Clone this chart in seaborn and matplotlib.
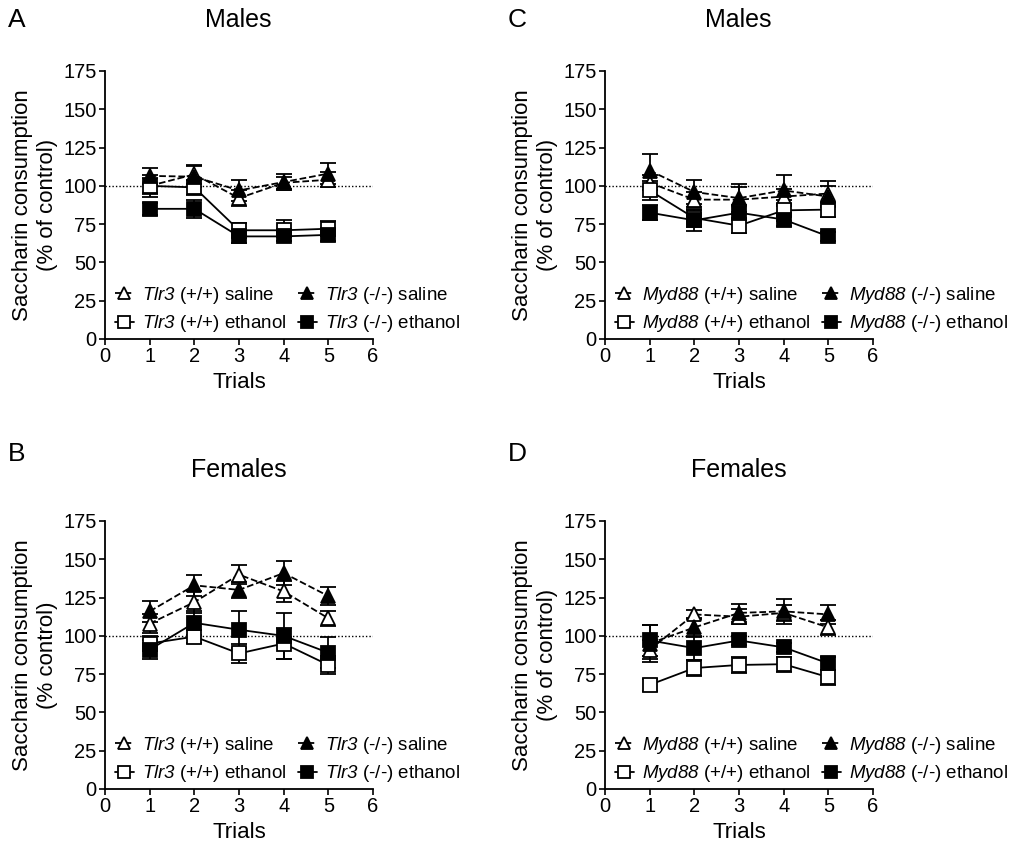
import numpy as np
import matplotlib
matplotlib.use("Agg")
import matplotlib.pyplot as plt
import pandas as pd
import seaborn as sns

trials = [1, 2, 3, 4, 5]

# panel A: Tlr3 males
a_wt_sal = [100, 107.5, 92, 102, 104]
a_wt_sal_err = [7, 6, 5, 4, 5]
a_ko_sal = [106.5, 106, 97, 102.5, 108]
a_ko_sal_err = [5, 7, 7, 5, 7]
a_wt_eth = [100, 99, 71, 71, 72]
a_wt_eth_err = [5, 5, 5, 7, 5]
a_ko_eth = [85, 85, 67, 67, 68]
a_ko_eth_err = [4, 6, 4, 3, 4]

# panel B: Tlr3 females
b_wt_sal = [108, 122, 140, 129, 111.5]
b_wt_sal_err = [6, 7, 6, 7, 5]
b_ko_sal = [116, 133, 130, 141, 126]
b_ko_sal_err = [7, 7, 5, 8, 6]
b_wt_eth = [95, 99.5, 88.5, 95, 81]
b_wt_eth_err = [5, 4, 6, 10, 6]
b_ko_eth = [91, 108.5, 104, 100, 89]
b_ko_eth_err = [6, 8, 12, 15, 10]

# panel C: Myd88 males
c_wt_sal = [102, 91, 91, 93, 95]
c_wt_sal_err = [5, 5, 8, 5, 8]
c_ko_sal = [110, 96, 92, 97, 93]
c_ko_sal_err = [11, 8, 9, 10, 7]
c_wt_eth = [97, 79, 74, 84, 84.5]
c_wt_eth_err = [6, 6, 5, 7, 5]
c_ko_eth = [82.5, 77.5, 82.5, 78, 67]
c_ko_eth_err = [5, 7, 5, 4, 3]

# panel D: Myd88 females
d_wt_sal = [91, 114, 112.5, 115, 105.5]
d_wt_sal_err = [6, 3, 5, 5, 5]
d_ko_sal = [95, 105.5, 115, 116, 114]
d_ko_sal_err = [12, 6, 6, 8, 6]
d_wt_eth = [68, 79, 81, 81.5, 73]
d_wt_eth_err = [4, 5, 5, 5, 5]
d_ko_eth = [97, 92, 97, 92.5, 82]
d_ko_eth_err = [10, 8, 3, 3, 4]

sns.set_style("ticks")
plt.rcParams['font.family'] = ['Liberation Sans', 'DejaVu Sans']
plt.rcParams['mathtext.fontset'] = 'custom'
# gene names are the only math text, and they are fully italic (digits too)
plt.rcParams['mathtext.rm'] = 'Liberation Sans:italic'
plt.rcParams['mathtext.it'] = 'Liberation Sans:italic'
for key in ['text.color', 'axes.labelcolor', 'xtick.color', 'ytick.color', 'axes.edgecolor']:
    plt.rcParams[key] = 'black'

W, H = 1017, 852
fig = plt.figure(figsize=(W / 100, H / 100), dpi=100)


def draw_panel(rect, gene, data, ylabel, title, letter, title_xy, letter_xy):
    wt_sal, wt_sal_err, ko_sal, ko_sal_err, wt_eth, wt_eth_err, ko_eth, ko_eth_err = data
    g = r"$\mathrm{" + gene + "}$"
    # plotted in this order; legend columns are (wt saline, wt ethanol), (ko saline, ko ethanol)
    series = [
        (wt_sal, wt_sal_err, "^", False, "--", g + " (+/+) saline"),
        (wt_eth, wt_eth_err, "s", False, "-", g + " (+/+) ethanol"),
        (ko_sal, ko_sal_err, "^", True, "--", g + " (-/-) saline"),
        (ko_eth, ko_eth_err, "s", True, "-", g + " (-/-) ethanol"),
    ]
    ax = fig.add_axes(rect)
    for vals, err, marker, filled, ls, label in series:
        df = pd.DataFrame({"Trial": trials, "Value": vals})
        sns.lineplot(data=df, x="Trial", y="Value", ax=ax, color="black",
                     linestyle=ls, linewidth=1.3, marker=marker, markersize=10,
                     markerfacecolor="black" if filled else "white",
                     markeredgecolor="black", markeredgewidth=1.3,
                     label=label, zorder=3)
        ax.errorbar(trials, vals, yerr=err, fmt="none", ecolor="black",
                    elinewidth=1.3, capsize=6, capthick=1.3, zorder=2)
    ax.axhline(100, color="black", linestyle=(0, (1, 1.5)), linewidth=1.0, zorder=1)
    ax.set_xlim(0, 6)
    ax.set_ylim(0, 175)
    ax.set_xticks(range(0, 7))
    ax.set_yticks(range(0, 176, 25))
    ax.tick_params(labelsize=14.5, width=1.2, length=4, color="black", pad=2)
    for s in ["left", "bottom"]:
        ax.spines[s].set_linewidth(1.3)
        ax.spines[s].set_color("black")
    sns.despine(ax=ax)
    ax.set_xlabel("Trials", fontsize=16)
    ax.set_ylabel(ylabel, fontsize=16, linespacing=1.25)
    ax.xaxis.set_label_coords(0.5, -0.125)
    ax.yaxis.set_label_coords(-0.175, 0.5)

    h, l = ax.get_legend_handles_labels()
    ax.legend(h, l, ncol=2, loc="lower left", bbox_to_anchor=(-0.005, -0.025),
              frameon=False, fontsize=13.5, handlelength=1.0, handletextpad=0.45,
              columnspacing=0.6, labelspacing=0.4, borderaxespad=0.2, markerscale=0.85)
    fig.text(title_xy[0], title_xy[1], title, fontsize=18, ha="center", va="center")
    fig.text(letter_xy[0], letter_xy[1], letter, fontsize=19, ha="left", va="center")
    return ax


ax_w, ax_h = 268 / W, 268 / H

draw_panel([105 / W, 1 - 339 / H, ax_w, ax_h], "Tlr3",
           (a_wt_sal, a_wt_sal_err, a_ko_sal, a_ko_sal_err, a_wt_eth, a_wt_eth_err, a_ko_eth, a_ko_eth_err),
           "Saccharin consumption\n(% of control)", "Males", "A",
           (238 / W, 1 - 20 / H), (8 / W, 1 - 20 / H))
draw_panel([105 / W, 1 - 789 / H, ax_w, ax_h], "Tlr3",
           (b_wt_sal, b_wt_sal_err, b_ko_sal, b_ko_sal_err, b_wt_eth, b_wt_eth_err, b_ko_eth, b_ko_eth_err),
           "Saccharin consumption\n(% control)", "Females", "B",
           (239 / W, 1 - 470 / H), (8 / W, 1 - 454 / H))
draw_panel([605 / W, 1 - 339 / H, ax_w, ax_h], "Myd88",
           (c_wt_sal, c_wt_sal_err, c_ko_sal, c_ko_sal_err, c_wt_eth, c_wt_eth_err, c_ko_eth, c_ko_eth_err),
           "Saccharin consumption\n(% of control)", "Males", "C",
           (738 / W, 1 - 20 / H), (508 / W, 1 - 20 / H))
draw_panel([605 / W, 1 - 789 / H, ax_w, ax_h], "Myd88",
           (d_wt_sal, d_wt_sal_err, d_ko_sal, d_ko_sal_err, d_wt_eth, d_wt_eth_err, d_ko_eth, d_ko_eth_err),
           "Saccharin consumption\n(% of control)", "Females", "D",
           (739 / W, 1 - 470 / H), (508 / W, 1 - 454 / H))

fig.savefig("out.png", dpi=100)
